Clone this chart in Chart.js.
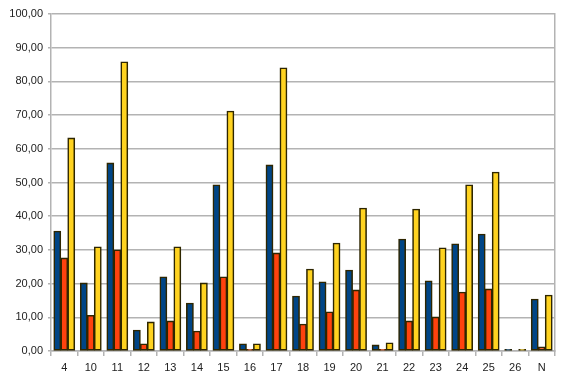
<!DOCTYPE html>
<html>
<head>
<meta charset="utf-8">
<script src="https://cdn.jsdelivr.net/npm/chart.js@4/dist/chart.umd.min.js"></script>
<style>
html,body{margin:0;padding:0;background:#fff;}
#wrap{width:566px;height:380px;position:relative;}
</style>
</head>
<body>
<div id="wrap"><canvas id="c" width="566" height="380"></canvas></div>
<script>
const categories = ["4","10","11","12","13","14","15","16","17","18","19","20","21","22","23","24","25","26","N"];
const seriesBlue   = [35.6, 20.2, 55.8, 6.2, 22.0, 14.2, 49.3, 2.1, 55.2, 16.3, 20.5, 24.0, 1.8, 33.2, 20.8, 31.8, 34.7, 0.0, 15.4];
const seriesRed    = [27.6, 10.6, 30.0, 2.1,  8.9,  5.9, 22.0, 0.0, 29.1,  8.0, 11.6, 18.1, 0.3,  8.9, 10.1, 17.5, 18.4, null, 1.2];
const seriesYellow = [63.2, 30.9, 85.8, 8.6, 30.9, 20.2, 71.2, 2.1, 84.0, 24.3, 32.0, 42.4, 2.4, 42.1, 30.6, 49.3, 53.1, 0.0, 16.6];
const yTicks = {min: 0, max: 100, step: 10};

const border = '#2e2600';
const gridColor = '#b3b3b3';
const font = {family: 'Liberation Sans', size: 11};
const mk = (data, color) => ({
  data, backgroundColor: color, borderColor: border, borderWidth: 1.6,
  barPercentage: 1.0, categoryPercentage: 0.79, borderSkipped: false,
  inflateAmount: 0.4, minBarLength: 1.5
});

new Chart(document.getElementById('c'), {
  type: 'bar',
  data: {
    labels: categories,
    datasets: [mk(seriesBlue, '#004586'), mk(seriesRed, '#ff420e'), mk(seriesYellow, '#ffd320')]
  },
  options: {
    responsive: false,
    animation: false,
    devicePixelRatio: 1,
    layout: {padding: {left: 0, right: 11, top: 14, bottom: 0}},
    plugins: {legend: {display: false}, tooltip: {enabled: false}},
    scales: {
      x: {
        offset: true,
        grid: {display: true, offset: true, drawOnChartArea: false, drawTicks: true, tickLength: 5, color: gridColor, lineWidth: 1.5},
        border: {display: true, color: gridColor, width: 1.5},
        ticks: {color: '#222', font, padding: 5, maxRotation: 0, autoSkip: false},
        afterFit: s => { s.height = 29; }
      },
      y: {
        min: yTicks.min, max: yTicks.max,
        grid: {color: gridColor, lineWidth: 1.5, tickLength: 3, drawTicks: true},
        border: {display: true, color: gridColor, width: 1.5},
        ticks: {stepSize: yTicks.step, color: '#222', font, padding: 5,
          callback: v => v.toFixed(2).replace('.', ',')},
        afterFit: s => { s.width = 51; }
      },
      yR: {
        position: 'right', min: yTicks.min, max: yTicks.max,
        grid: {drawOnChartArea: false, drawTicks: false},
        border: {display: true, color: gridColor, width: 1.5},
        ticks: {display: false},
        afterFit: s => { s.width = 0; }
      }
    }
  }
});
</script>
</body>
</html>
